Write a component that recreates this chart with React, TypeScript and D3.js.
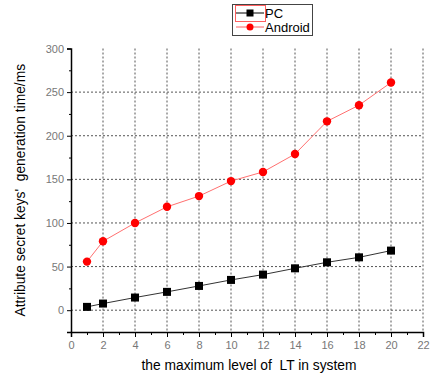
import React, { useRef, useEffect } from "react";
import * as d3 from "d3";

const levels = [1, 2, 4, 6, 8, 10, 12, 14, 16, 18, 20];
const pcTimes = [3.8, 7.6, 14.5, 21, 27.8, 34.7, 40.8, 48, 54.9, 60.6, 68.3];
const androidTimes = [55.7, 79, 100, 118.5, 130.8, 148, 158.5, 179, 216.5, 235, 261];
const xTicks = [0, 2, 4, 6, 8, 10, 12, 14, 16, 18, 20, 22];
const yTicks = [0, 50, 100, 150, 200, 250, 300];

const App = () => {
  const svgRef = useRef<SVGSVGElement>(null);

  useEffect(() => {
    const svg = d3.select(svgRef.current);
    svg.selectAll("*").remove();

    const width = 431;
    const height = 377;
    const font = "Liberation Sans, Arial, sans-serif";

    const x = d3.scaleLinear().domain([0, 22]).range([71, 423]);
    const y = d3.scaleLinear().domain([-25, 300]).range([332, 48.5]);

    // grid lines
    const grid = svg.append("g");
    grid
      .selectAll(".vgrid")
      .data(xTicks.filter((d) => d > 0))
      .enter()
      .append("line")
      .attr("x1", (d) => x(d))
      .attr("x2", (d) => x(d))
      .attr("y1", y(300))
      .attr("y2", y(-25))
      .attr("stroke", "#555")
      .attr("stroke-width", 1)
      .attr("stroke-dasharray", "2,2");
    grid
      .selectAll(".hgrid")
      .data(yTicks.filter((d) => d < 300))
      .enter()
      .append("line")
      .attr("x1", x(0))
      .attr("x2", x(22))
      .attr("y1", (d) => y(d))
      .attr("y2", (d) => y(d))
      .attr("stroke", "#555")
      .attr("stroke-width", 1)
      .attr("stroke-dasharray", "2,2");

    // x axis
    const xAxis = svg
      .append("g")
      .attr("transform", `translate(0,${y(-25)})`)
      .call(
        d3.axisBottom(x).tickValues(xTicks).tickSize(5).tickPadding(4).tickFormat(d3.format("d"))
      );
    xAxis.select(".domain").attr("stroke", "#000").attr("stroke-width", 1.5);
    xAxis.selectAll(".tick line").attr("stroke", "#000");
    xAxis
      .selectAll("text")
      .attr("fill", "#777")
      .style("font-family", font)
      .style("font-size", "11px");
    svg
      .append("g")
      .attr("transform", `translate(0,${y(-25)})`)
      .call(d3.axisBottom(x).tickValues(d3.range(1, 22, 2)).tickSize(3).tickFormat(() => ""))
      .call((g) => g.select(".domain").remove());

    // y axis
    const yAxis = svg
      .append("g")
      .attr("transform", `translate(${x(0)},0)`)
      .call(d3.axisLeft(y).tickValues(yTicks).tickSize(4).tickPadding(3));
    yAxis.select(".domain").attr("stroke", "#000").attr("stroke-width", 1.5);
    yAxis
      .selectAll("text")
      .attr("fill", "#777")
      .style("font-family", font)
      .style("font-size", "11px");
    svg
      .append("g")
      .attr("transform", `translate(${x(0)},0)`)
      .call(d3.axisLeft(y).tickValues([-25, 25, 75, 125, 175, 225, 275]).tickSize(2).tickFormat(() => ""))
      .call((g) => g.select(".domain").remove());

    // axis titles
    svg
      .append("text")
      .attr("x", 249)
      .attr("y", 370)
      .attr("text-anchor", "middle")
      .style("font-family", font)
      .style("font-size", "13.8px")
      .style("white-space", "pre")
      .text("the maximum level of  LT in system");
    svg
      .append("text")
      .attr("transform", `translate(25,${(y(300) + y(-25)) / 2}) rotate(-90)`)
      .attr("text-anchor", "middle")
      .style("font-family", font)
      .style("font-size", "13.8px")
      .style("white-space", "pre")
      .text("Attribute secret keys'  generation time/ms");

    const line = d3
      .line<number>()
      .x((_, i) => x(levels[i]))
      .y((d) => y(d));

    // PC series
    svg
      .append("path")
      .datum(pcTimes)
      .attr("d", line)
      .attr("fill", "none")
      .attr("stroke", "#333")
      .attr("stroke-width", 1);
    svg
      .selectAll(".pc")
      .data(pcTimes)
      .enter()
      .append("rect")
      .attr("x", (_, i) => x(levels[i]) - 4)
      .attr("y", (d) => y(d) - 4)
      .attr("width", 8)
      .attr("height", 8)
      .attr("fill", "#000");

    // Android series
    svg
      .append("path")
      .datum(androidTimes)
      .attr("d", line)
      .attr("fill", "none")
      .attr("stroke", "#ff7070")
      .attr("stroke-width", 1);
    svg
      .selectAll(".android")
      .data(androidTimes)
      .enter()
      .append("circle")
      .attr("cx", (_, i) => x(levels[i]))
      .attr("cy", (d) => y(d))
      .attr("r", 4.2)
      .attr("fill", "#f00");

    // legend
    const legend = svg.append("g");
    legend
      .append("rect")
      .attr("x", 232.5)
      .attr("y", 4.5)
      .attr("width", 80)
      .attr("height", 31)
      .attr("fill", "#fff")
      .attr("stroke", "#444");
    legend
      .append("rect")
      .attr("x", 235.5)
      .attr("y", 5.5)
      .attr("width", 30)
      .attr("height", 16)
      .attr("fill", "none")
      .attr("stroke", "#ff6060");
    legend
      .append("line")
      .attr("x1", 236)
      .attr("x2", 264)
      .attr("y1", 13)
      .attr("y2", 13)
      .attr("stroke", "#000");
    legend
      .append("rect")
      .attr("x", 246.5)
      .attr("y", 9.5)
      .attr("width", 7)
      .attr("height", 7)
      .attr("fill", "#000");
    legend
      .append("line")
      .attr("x1", 236)
      .attr("x2", 264)
      .attr("y1", 27)
      .attr("y2", 27)
      .attr("stroke", "#ff6060");
    legend
      .append("circle")
      .attr("cx", 250)
      .attr("cy", 27)
      .attr("r", 3.5)
      .attr("fill", "#f00");
    legend
      .selectAll(".ltext")
      .data(["PC", "Android"])
      .enter()
      .append("text")
      .attr("x", 265)
      .attr("y", (_, i) => 17.5 + i * 14)
      .style("font-family", font)
      .style("font-size", "13px")
      .text((d) => d);

    svg.attr("width", width).attr("height", height);
  }, []);

  return (
    <svg
      ref={svgRef}
      width={431}
      height={377}
      style={{ position: "absolute", left: 0, top: 0, background: "#fff" }}
    ></svg>
  );
};

export default App;
